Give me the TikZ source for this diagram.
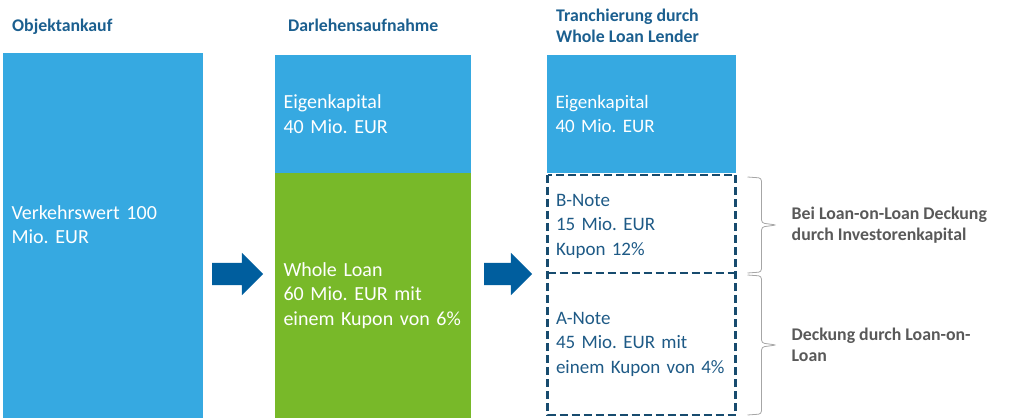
\documentclass[tikz,border=0pt]{standalone}
\usepackage{fontspec}
\setmainfont{Carlito}
\frenchspacing
\usetikzlibrary{positioning,shapes.arrows}

\definecolor{kapitalblau}{HTML}{36A9E1}
\definecolor{loangruen}{HTML}{78B929}
\definecolor{kopfblau}{HTML}{1B5F8F}
\definecolor{pfeilblau}{HTML}{005E9E}
\definecolor{notenblau}{HTML}{174B6E}
\definecolor{notentext}{HTML}{1E5A86}
\definecolor{klammergrau}{HTML}{A6A6A6}
\definecolor{hinweisgrau}{HTML}{595959}

\begin{document}
\begin{tikzpicture}[
        x=1pt,y=-1pt,
        kopf/.style={font=\fontsize{17.8}{21}\selectfont\bfseries,text=kopfblau,align=left,inner sep=0pt},
        block/.style={rectangle,inner xsep=8.5pt,inner ysep=0pt,outer sep=0pt,align=left,font=\fontsize{20}{24.4}\selectfont,text=white},
        kleinblock/.style={block,font=\fontsize{19}{24.5}\selectfont},
        note/.style={kleinblock,text=notentext},
        strichrahmen/.style={draw=notenblau,line width=2.6pt,dash pattern=on 8pt off 4pt},
        blockpfeil/.style={single arrow,fill=pfeilblau,minimum height=51pt,minimum width=42pt,single arrow head extend=10pt,inner xsep=0pt,inner ysep=11pt,outer sep=0pt},
        klammer/.style={draw=klammergrau,line width=0.8pt,rounded corners=3pt},
        hinweis/.style={font=\fontsize{17.8}{21}\selectfont\bfseries,text=hinweisgrau,align=left,inner sep=0pt}
    ]
    \useasboundingbox (0,0) rectangle (1024,419);

    % Spaltenkoepfe
    \node[kopf,anchor=base west] (kopf1) at (12,32) {Objektankauf};
    \node[kopf,anchor=base west] (kopf2) at (288,32) {Darlehensaufnahme};
    \node[kopf,anchor=base west] (kopf3) at (556,43) {Tranchierung durch\\Whole Loan Lender};

    % Objektankauf
    \node[block,fill=kapitalblau,anchor=north west,minimum width=200pt,minimum height=365pt] (objekt) at (3,53) {};
    \node[block,anchor=west,text width=190pt] (objtext) at ([yshift=11pt]objekt.west) {Verkehrswert 100\\Mio. EUR};

    % Darlehensaufnahme
    \node[block,fill=kapitalblau,anchor=north west,minimum width=196pt,minimum height=118pt,text width=179pt] (eigen2) at (275,55) {Eigenkapital\\40 Mio. EUR};
    \node[block,fill=loangruen,below=0pt of eigen2,minimum width=196pt,minimum height=245pt,text width=179pt] (loan2) {Whole Loan\\60 Mio. EUR mit\\einem Kupon von 6\%};

    % Tranchierung
    \node[kleinblock,fill=kapitalblau,anchor=north west,minimum width=189pt,minimum height=118pt,text width=172pt] (eigen3) at (547,55) {Eigenkapital\\40 Mio. EUR};
    \node[note,anchor=north,minimum width=188pt,minimum height=98pt,text width=171pt] (bnote) at ([yshift=-4pt]eigen3.south) {B-Note\\15 Mio. EUR\\Kupon 12\%};
    \node[note,anchor=north,minimum width=188pt,minimum height=142pt,text width=171pt] (anote) at ([yshift=-100pt]eigen3.south) {A-Note\\45 Mio. EUR mit\\einem~Kupon~von~4\%};
    \draw[strichrahmen] ([yshift=2pt]bnote.north west) rectangle (anote.south east);
    \draw[strichrahmen] (anote.north west) -- (anote.north east);

    % Pfeile
    \node[blockpfeil,anchor=tip] (pfeil1) at (263,274) {};
    \node[blockpfeil,anchor=tip,minimum height=48pt] (pfeil2) at (532,274) {};

    % Klammern
    \draw[klammer] ([xshift=12pt]bnote.north east) -- ++(14,1) -- ++(0,45) -- ++(15,2) coordinate (spitze1) -- ++(-15,2) -- ++(0,45) -- ++(-14,1);
    \draw[klammer] ([xshift=12pt,yshift=-2pt]anote.north east) -- ++(14,1) -- ++(0,67) -- ++(15,2) coordinate (spitze2) -- ++(-15,2) -- ++(0,67) -- ++(-14,1);
    \node[hinweis,anchor=west] (hinweis1) at ([xshift=15pt]spitze1) {Bei Loan-on-Loan Deckung\\durch Investorenkapital};
    \node[hinweis,anchor=west] (hinweis2) at ([xshift=15pt]spitze2) {Deckung durch Loan-on-\\Loan};
\end{tikzpicture}
\end{document}
